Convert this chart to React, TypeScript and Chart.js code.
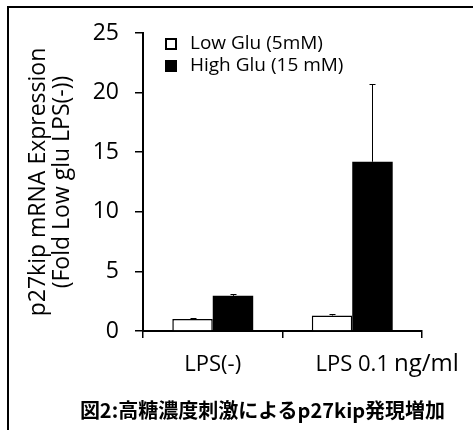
import React, { useEffect, useRef } from "react";
import { Chart, registerables } from "chart.js";

Chart.register(...registerables);

// ---- data ----
const CATEGORIES = ["LPS(-)", "LPS 0.1"];
const UNIT_NOTE = "ng/ml";
const SERIES_NAMES = ["Low Glu (5mM)", "High Glu (15 mM)"];
const LOW_GLU = [1.0, 1.3];
const HIGH_GLU = [2.95, 14.2];
const LOW_GLU_ERR = [0.05, 0.12];
const HIGH_GLU_ERR = [0.12, 6.5];
const Y_TICKS = [0, 5, 10, 15, 20, 25];
const Y_TITLE = ["p27kip mRNA Expression", "(Fold Low glu LPS(-))"];
const CAPTION = "図2:高糖濃度刺激によるp27kip発現増加";

const FONT = "'Open Sans', sans-serif";
const ERRORS = [LOW_GLU_ERR, HIGH_GLU_ERR];

const errorBarPlugin = {
  id: "errorBars",
  afterDatasetsDraw(chart: any) {
    const { ctx } = chart;
    const y = chart.scales.y;
    ctx.save();
    ctx.strokeStyle = "#000";
    ctx.lineWidth = 1;
    chart.data.datasets.forEach((ds: any, di: number) => {
      const meta = chart.getDatasetMeta(di);
      meta.data.forEach((el: any, i: number) => {
        const v = ds.data[i];
        const e = ERRORS[di][i];
        const top = y.getPixelForValue(v + e);
        const x = Math.round(el.x) + 0.5;
        ctx.beginPath();
        ctx.moveTo(x, el.y);
        ctx.lineTo(x, top);
        ctx.moveTo(x - 3, Math.round(top) + 0.5);
        ctx.lineTo(x + 3, Math.round(top) + 0.5);
        ctx.stroke();
      });
    });
    ctx.restore();
  },
};

const legendPlugin = {
  id: "boxLegend",
  afterDraw(chart: any) {
    const { ctx } = chart;
    const area = chart.chartArea;
    ctx.save();
    ctx.font = `19px ${FONT}`;
    ctx.textBaseline = "middle";
    ctx.textAlign = "left";
    chart.data.datasets.forEach((ds: any, i: number) => {
      const cy = area.top + 11 + i * 22;
      const bx = area.left + 22;
      ctx.fillStyle = ds.backgroundColor;
      ctx.fillRect(bx, cy - 6, 12, 12);
      ctx.strokeStyle = "#000";
      ctx.lineWidth = 2;
      ctx.strokeRect(bx + 1, cy - 5, 10, 10);
      ctx.fillStyle = "#000";
      ctx.fillText(ds.label, bx + 25, cy);
    });
    ctx.restore();
  },
};

const unitNotePlugin = {
  id: "unitNote",
  afterDraw(chart: any) {
    const { ctx } = chart;
    const xs = chart.scales.x;
    const opts = xs.options;
    const size = 22;
    const idx = CATEGORIES.length - 1;
    ctx.save();
    ctx.font = `${size}px ${FONT}`;
    const w = ctx.measureText(CATEGORIES[idx]).width;
    const cx = xs.getPixelForValue(idx);
    const cy = xs.top + opts.grid.tickLength + opts.ticks.padding + (size * 1.2) / 2;
    ctx.font = `24px ${FONT}`;
    ctx.fillStyle = "#000";
    ctx.textBaseline = "middle";
    ctx.textAlign = "left";
    ctx.fillText(UNIT_NOTE, cx + w / 2 + 5, cy - 1);
    ctx.restore();
  },
};

export default function App() {
  const ref = useRef<HTMLCanvasElement>(null);

  useEffect(() => {
    const chart = new Chart(ref.current as HTMLCanvasElement, {
      type: "bar",
      data: {
        labels: CATEGORIES,
        datasets: [
          {
            label: SERIES_NAMES[0],
            data: LOW_GLU,
            backgroundColor: "#ffffff",
            borderColor: "#000000",
            borderWidth: 1.5,
            categoryPercentage: 0.58,
            barPercentage: 1,
          },
          {
            label: SERIES_NAMES[1],
            data: HIGH_GLU,
            backgroundColor: "#000000",
            borderColor: "#000000",
            borderWidth: 0,
            categoryPercentage: 0.58,
            barPercentage: 1,
          },
        ] as any,
      },
      options: {
        animation: false,
        responsive: false,
        devicePixelRatio: 1,
        layout: { padding: { left: 0, top: 33, right: 51, bottom: 0 } },
        plugins: {
          legend: { display: false },
          tooltip: { enabled: false },
        },
        scales: {
          x: {
            afterFit: (s: any) => {
              s.height = 99;
            },
            grid: {
              offset: true,
              drawOnChartArea: false,
              drawTicks: true,
              tickLength: 7,
              color: "#000",
              lineWidth: 1.5,
            },
            border: { display: true, color: "#000", width: 2 },
            ticks: {
              color: "#000",
              font: { family: FONT, size: 22, lineHeight: 1.2 },
              padding: 14,
              maxRotation: 0,
            },
          },
          y: {
            min: Y_TICKS[0],
            max: Y_TICKS[Y_TICKS.length - 1],
            afterFit: (s: any) => {
              s.width = 143;
            },
            afterBuildTicks: (s: any) => {
              s.ticks = Y_TICKS.map((v) => ({ value: v }));
            },
            grid: {
              drawOnChartArea: false,
              drawTicks: true,
              tickLength: 8,
              color: "#000",
              lineWidth: 1.5,
            },
            border: { display: true, color: "#000", width: 2 },
            ticks: {
              color: "#000",
              font: { family: FONT, size: 23 },
              padding: 16,
            },
            title: {
              display: true,
              text: Y_TITLE,
              color: "#000",
              font: { family: FONT, size: 23, lineHeight: 1.045 },
              padding: { top: 26, bottom: 0 },
            },
          },
        },
      } as any,
      plugins: [errorBarPlugin, legendPlugin, unitNotePlugin],
    });
    return () => chart.destroy();
  }, []);

  return (
    <div
      style={{
        position: "absolute",
        left: 0,
        top: 0,
        width: 473,
        height: 430,
        background: "#fff",
        overflow: "hidden",
      }}
    >
      <canvas
        ref={ref}
        width={473}
        height={430}
        style={{ position: "absolute", left: 0, top: 0, width: 473, height: 430 }}
      />
      <div
        style={{
          position: "absolute",
          left: 7,
          top: 6,
          right: 0,
          bottom: 0,
          borderTop: "2px solid #000",
          borderLeft: "2px solid #000",
          pointerEvents: "none",
        }}
      />
      <div
        style={{
          position: "absolute",
          left: 0,
          width: 525,
          top: 398,
          textAlign: "center",
          fontFamily: "'Noto Sans CJK JP', sans-serif",
          fontWeight: "bold",
          fontSize: 20,
          lineHeight: "24px",
          whiteSpace: "nowrap",
          color: "#000",
        }}
      >
        {CAPTION}
      </div>
    </div>
  );
}
